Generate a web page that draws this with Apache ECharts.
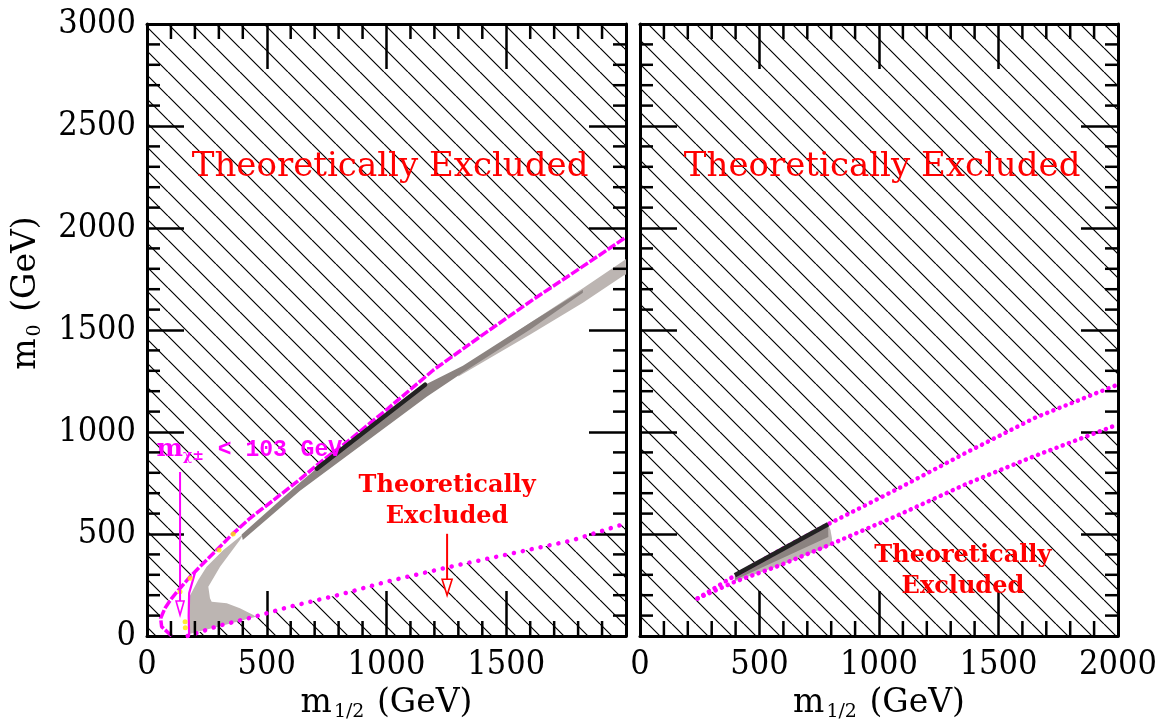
<!DOCTYPE html>
<html>
<head>
<meta charset="utf-8">
<script src="https://cdn.jsdelivr.net/npm/echarts@6/dist/echarts.min.js"></script>
<style>
  html, body { margin: 0; padding: 0; background: #fff; }
  #chart { width: 1162px; height: 727px; }
</style>
</head>
<body>
<div id="chart"></div>
<script>
// ---- axes ----
const m12Min = 0, m12Max = 2000, m0Min = 0, m0Max = 3000;
const majorStep = 500;
const m12TickValues = [0, 500, 1000, 1500, 2000];
const leftM12TickLabels = ['0', '500', '1000', '1500', ''];
const rightM12TickLabels = ['0', '500', '1000', '1500', '2000'];
const m0TickValues = [0, 500, 1000, 1500, 2000, 2500, 3000];
const m0TickLabels = ['0', '500', '1000', '1500', '2000', '2500', '3000'];
// short ticks every 100 GeV
const m12MinorTicks = [100, 200, 300, 400, 600, 700, 800, 900, 1100, 1200, 1300, 1400, 1600, 1700, 1800, 1900];
const m0MinorTicks = [100, 200, 300, 400, 600, 700, 800, 900, 1100, 1200, 1300, 1400, 1600, 1700, 1800, 1900,
                      2100, 2200, 2300, 2400, 2600, 2700, 2800, 2900];

// ---- left panel (m1/2, m0 in GeV) ----
// upper theoretical boundary
const leftUpperM12 = [103, 61, 57, 75, 103, 138, 180, 228, 291, 360, 430, 527, 625, 722, 850, 1006, 1196, 1400, 1613, 1815, 2000];
const leftUpperM0  = [0, 46, 87, 136, 185, 234, 291, 348, 422, 503, 577, 665, 755, 850, 965, 1115, 1304, 1475, 1650, 1808, 1955];
// lower theoretical boundary (dotted)
const leftLowerM12 = [170, 300, 451, 597, 806, 1006, 1261, 1517, 1773, 2000];
const leftLowerM0  = [0, 50, 95, 144, 203, 268, 338, 403, 468, 552];
// chargino mass bound
const chargM12 = [176, 174, 176, 200];
const chargM0  = [0, 100, 210, 309];
// allowed strips
const leftWing = [[172, 13], [177, 193], [214, 275], [249, 340], [319, 422], [402, 500], [388, 471], [305, 340], [256, 242], [263, 185], [270, 168], [333, 160], [388, 136], [444, 103], [455, 94], [300, 47], [172, 8]];
const leftLightBand = [[1300, 1300], [1600, 1535], [1820, 1705], [1990, 1840], [2000, 1848], [2000, 1772], [1990, 1767], [1820, 1634], [1600, 1478], [1300, 1272]];
const leftDarkBand = [[395, 497], [639, 752], [709, 822], [1161, 1232], [1319, 1325], [1600, 1535], [1820, 1697], [1820, 1682], [1600, 1502], [1319, 1292], [1168, 1173], [639, 712], [400, 470]];
const leftBlackM12 = [709, 1161];
const leftBlackM0  = [820, 1232];
const leftYellowM12 = [360, 301, 180, 138, 159, 160];
const leftYellowM0  = [500, 422, 283, 217, 70, 40];

// ---- right panel ----
const rightUpperM12 = [241, 397, 585, 787, 1076, 1365, 1653, 2000];
const rightUpperM0  = [184, 296, 420, 548, 720, 899, 1070, 1233];
const rightLowerM12 = [241, 397, 585, 787, 1076, 1365, 1653, 2000];
const rightLowerM0  = [184, 266, 346, 444, 590, 745, 883, 1037];
const rightLightBand = [[397, 298], [787, 548], [797, 520], [803, 480], [803, 446], [585, 346], [397, 268]];
const rightDarkBand = [[397, 298], [787, 548], [788, 485], [397, 275]];
const rightBlackM12 = [397, 787];
const rightBlackM0  = [298, 548];

// ---- annotations ----
const bigLabelText = 'Theoretically Excluded';
const bigLabelPos = [[1015, 2300], [1013, 2300]];
const smallLabelText = 'Theoretically\nExcluded';
const leftSmallLabelPos = [1253, 660];
const rightSmallLabelPos = [1351, 318];
const chargLabelPos = [40, 912];
const chargArrowM12 = [138, 138];
const chargArrowM0  = [804, 103];
const exclArrowM12 = [1253, 1253];
const exclArrowM0  = [501, 200];

const MAGENTA = '#ff00ff', RED = '#ff0000', LIGHT = '#bcb5b2', DARK = '#8b8380';
const SERIF = "'DejaVu Serif', serif";
const TICKFONT = "'DejaVu Serif Condensed', 'DejaVu Serif', serif";

const zip = (xs, ys) => xs.map((x, i) => [x, ys[i]]);

// diagonal hatching used for excluded regions
function hatchPattern() {
  const s = 24, c = document.createElement('canvas');
  c.width = s; c.height = s;
  const g = c.getContext('2d');
  g.strokeStyle = '#000';
  g.lineWidth = 1.2;
  g.beginPath();
  for (const o of [-s, 0, s]) { g.moveTo(o, 0); g.lineTo(o + s, s); }
  g.stroke();
  return { image: c, repeat: 'repeat' };
}
const hatch = hatchPattern();

// excluded regions
const leftUpperHatch = [[m12Min, m0Min], ...zip(leftUpperM12, leftUpperM0), [m12Max, m0Max], [m12Min, m0Max]];
const leftLowerHatch = [...zip(leftLowerM12, leftLowerM0), [m12Max, m0Min]];
const rightUpperHatch = [[m12Min, m0Min], ...zip(rightUpperM12, rightUpperM0), [m12Max, m0Max], [m12Min, m0Max]];
const rightLowerHatch = [[m12Min, m0Min], ...zip(rightLowerM12, rightLowerM0), [m12Max, m0Min]];

function polySeries(poly, fill, gi, z) {
  return {
    type: 'custom', xAxisIndex: gi * 2, yAxisIndex: gi * 2, z, silent: true, data: poly,
    renderItem(params, api) {
      if (params.dataIndex !== 0) return null;
      return { type: 'polygon', shape: { points: poly.map(p => api.coord(p)) }, style: { fill, stroke: null } };
    }
  };
}

function lineSeries(xs, ys, gi, lineStyle, z) {
  return {
    type: 'line', xAxisIndex: gi * 2, yAxisIndex: gi * 2, data: zip(xs, ys),
    showSymbol: false, symbol: 'none', lineStyle, z, silent: true
  };
}

function arrowSeries(xs, ys, color, head, gi) {
  return {
    type: 'custom', xAxisIndex: gi * 2, yAxisIndex: gi * 2, z: 8, silent: true, data: zip(xs, ys),
    renderItem(params, api) {
      if (params.dataIndex !== 0) return null;
      const a = api.coord([xs[0], ys[0]]), b = api.coord([xs[1], ys[1]]);
      const L = head[0], w = head[1];
      return {
        type: 'group', children: [
          { type: 'line', shape: { x1: a[0], y1: a[1], x2: b[0], y2: b[1] - L }, style: { stroke: color, lineWidth: 2 } },
          { type: 'polygon', shape: { points: [[b[0] - w, b[1] - L], [b[0] + w, b[1] - L], [b[0], b[1]]] },
            style: { fill: '#fff', stroke: color, lineWidth: 1.6 } }
        ]
      };
    }
  };
}

function textSeries(pos, gi, style) {
  return {
    type: 'custom', xAxisIndex: gi * 2, yAxisIndex: gi * 2, z: 9, silent: true, data: [pos],
    renderItem(params, api) {
      const p = api.coord([api.value(0), api.value(1)]);
      return { type: 'text', x: p[0], y: p[1], style: Object.assign({ align: 'center', verticalAlign: 'middle' }, style) };
    }
  };
}

// short inward ticks on all four sides of a panel, placed by the axis scales
function minorTickSeries(gi, dim, values, len) {
  const ticks = values.map(v => dim === 'x' ? [v, m0Min] : [m12Min, v]);
  return {
    type: 'custom', xAxisIndex: gi * 2, yAxisIndex: gi * 2, z: 20, silent: true, data: [ticks[0]],
    renderItem(params, api) {
      const x0 = api.coord([m12Min, m0Min]), x1 = api.coord([m12Max, m0Max]);
      const left = x0[0], bottom = x0[1], right = x1[0], top = x1[1];
      const st = { stroke: '#000', lineWidth: 2.5 };
      const children = [];
      ticks.forEach(t => {
        const p = api.coord(t);
        if (dim === 'x') {
          children.push({ type: 'line', shape: { x1: p[0], y1: bottom, x2: p[0], y2: bottom - len }, style: st });
          children.push({ type: 'line', shape: { x1: p[0], y1: top, x2: p[0], y2: top + len }, style: st });
        } else {
          children.push({ type: 'line', shape: { x1: left, y1: p[1], x2: left + len, y2: p[1] }, style: st });
          children.push({ type: 'line', shape: { x1: right, y1: p[1], x2: right - len, y2: p[1] }, style: st });
        }
      });
      return { type: 'group', children };
    }
  };
}

const tickStyle = { color: '#000', width: 2.5 };
const frameStyle = { color: '#000', width: 3 };

function makeXAxis(gi, position, labels) {
  return {
    type: 'value', gridIndex: gi, position, min: m12Min, max: m12Max, interval: majorStep,
    axisLine: { show: true, onZero: false, lineStyle: frameStyle },
    axisTick: { show: true, inside: true, length: 45, lineStyle: tickStyle },
    splitLine: { show: false },
    axisLabel: labels ? {
      show: true, margin: 12, color: '#000', fontFamily: TICKFONT, fontSize: 34,
      formatter: v => { const i = m12TickValues.indexOf(v); return i < 0 ? '' : labels[i]; }
    } : { show: false },
    name: labels ? '{m|m}{s|1/2}{m| (GeV)}' : '',
    nameLocation: 'middle', nameGap: 44,
    nameTextStyle: {
      color: '#000', fontFamily: SERIF, fontSize: 32,
      rich: {
        m: { fontFamily: SERIF, fontSize: 33, color: '#000' },
        s: { fontFamily: SERIF, fontSize: 19, color: '#000', padding: [18, 2, 0, 2] }
      }
    }
  };
}
function makeYAxis(gi, position, labels) {
  return {
    type: 'value', gridIndex: gi, position, min: m0Min, max: m0Max, interval: majorStep,
    axisLine: { show: true, onZero: false, lineStyle: frameStyle },
    axisTick: { show: true, inside: true, length: 37, lineStyle: tickStyle },
    splitLine: { show: false },
    axisLabel: labels ? {
      show: true, margin: 11, color: '#000', fontFamily: TICKFONT, fontSize: 34,
      formatter: v => { const i = m0TickValues.indexOf(v); return i < 0 ? '' : labels[i]; }
    } : { show: false }
  };
}

const bigLabelStyle = { text: bigLabelText, fill: RED, fontFamily: SERIF, fontSize: 34 };
const smallLabelStyle = { text: smallLabelText, fill: RED, fontFamily: SERIF, fontSize: 24, fontWeight: 'bold', lineHeight: 31 };
const chargLabelStyle = {
  text: '{m|m}{s|χ±}{t| < 103 GeV}', align: 'left', fill: MAGENTA,
  rich: {
    m: { fontFamily: SERIF, fontSize: 25, fill: MAGENTA, fontWeight: 'bold' },
    s: { fontFamily: SERIF, fontSize: 14, fill: MAGENTA, fontWeight: 'bold', padding: [13, 0, 0, 0] },
    t: { fontFamily: "'Liberation Mono', monospace", fontSize: 23, fill: MAGENTA, fontWeight: 'bold' }
  }
};

const option = {
  animation: false,
  backgroundColor: '#fff',
  grid: [
    { left: 147, top: 24, width: 479, height: 612, containLabel: false },
    { left: 640, top: 24, width: 478, height: 612, containLabel: false }
  ],
  xAxis: [
    makeXAxis(0, 'bottom', leftM12TickLabels), makeXAxis(0, 'top', null),
    makeXAxis(1, 'bottom', rightM12TickLabels), makeXAxis(1, 'top', null)
  ],
  yAxis: [
    makeYAxis(0, 'left', m0TickLabels), makeYAxis(0, 'right', null),
    makeYAxis(1, 'left', null), makeYAxis(1, 'right', null)
  ],
  graphic: [{
    type: 'text', x: 26, y: 293, rotation: Math.PI / 2,
    style: {
      text: '{m|m}{s|0}{m| (GeV)}', align: 'center', verticalAlign: 'middle',
      rich: {
        m: { fontFamily: SERIF, fontSize: 33, fill: '#000' },
        s: { fontFamily: SERIF, fontSize: 19, fill: '#000', padding: [18, 2, 0, 2] }
      }
    }
  }],
  series: [
    // hatched exclusions
    polySeries(leftUpperHatch, hatch, 0, 1),
    polySeries(leftLowerHatch, hatch, 0, 1),
    polySeries(rightUpperHatch, hatch, 1, 1),
    polySeries(rightLowerHatch, hatch, 1, 1),
    // allowed strips
    polySeries(leftWing, LIGHT, 0, 2),
    polySeries(leftLightBand, LIGHT, 0, 2),
    polySeries(leftDarkBand, DARK, 0, 3),
    polySeries(rightLightBand, LIGHT, 1, 2),
    polySeries(rightDarkBand, DARK, 1, 3),
    // boundaries
    lineSeries(leftUpperM12, leftUpperM0, 0, { color: MAGENTA, width: 3.5, type: [9, 2] }, 5),
    lineSeries(leftLowerM12, leftLowerM0, 0, { color: MAGENTA, width: 4.5, type: [0.1, 9], cap: 'round' }, 5),
    lineSeries(chargM12, chargM0, 0, { color: MAGENTA, width: 2.2 }, 5),
    lineSeries(rightUpperM12, rightUpperM0, 1, { color: MAGENTA, width: 4.5, type: [0.1, 6.5], cap: 'round' }, 5),
    lineSeries(rightLowerM12, rightLowerM0, 1, { color: MAGENTA, width: 4.5, type: [0.1, 6.5], cap: 'round' }, 5),
    lineSeries(leftBlackM12, leftBlackM0, 0, { color: '#222', width: 4.5, cap: 'round' }, 6),
    lineSeries(rightBlackM12, rightBlackM0, 1, { color: '#222', width: 4.5 }, 6),
    {
      type: 'scatter', xAxisIndex: 0, yAxisIndex: 0, data: zip(leftYellowM12, leftYellowM0),
      symbolSize: 5, itemStyle: { color: '#ffe800' }, z: 7, silent: true
    },
    // arrows and labels
    arrowSeries(chargArrowM12, chargArrowM0, MAGENTA, [14, 4], 0),
    arrowSeries(exclArrowM12, exclArrowM0, RED, [16, 5], 0),
    textSeries(bigLabelPos[0], 0, bigLabelStyle),
    textSeries(bigLabelPos[1], 1, bigLabelStyle),
    textSeries(leftSmallLabelPos, 0, smallLabelStyle),
    textSeries(rightSmallLabelPos, 1, smallLabelStyle),
    textSeries(chargLabelPos, 0, chargLabelStyle),
    // minor ticks
    minorTickSeries(0, 'x', m12MinorTicks, 15),
    minorTickSeries(0, 'y', m0MinorTicks, 13),
    minorTickSeries(1, 'x', m12MinorTicks, 15),
    minorTickSeries(1, 'y', m0MinorTicks, 13)
  ]
};

const chart = echarts.init(document.getElementById('chart'), null, { renderer: 'canvas' });
chart.setOption(option);
</script>
</body>
</html>
